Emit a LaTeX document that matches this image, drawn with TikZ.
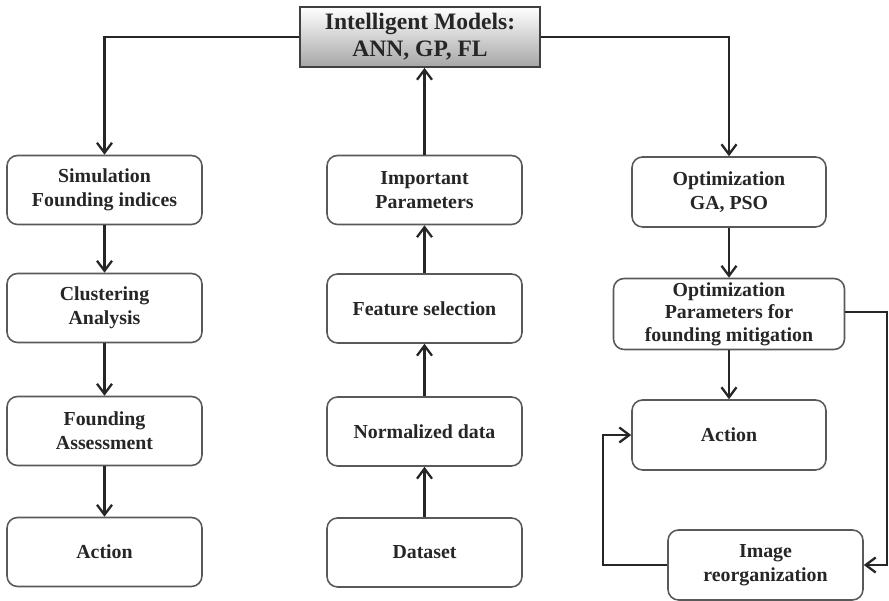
\documentclass[tikz,border=0pt]{standalone}
\usepackage{fontspec}
\setmainfont{Liberation Serif}
\usetikzlibrary{arrows.meta,positioning}

\begin{document}
\begin{tikzpicture}[
  box/.style={draw=black!65, rounded corners=6pt, line width=0.9pt, align=center, minimum width=39mm, minimum height=13.8mm, fill=white, font=\fontsize{11.3}{13.6}\selectfont\bfseries, text=black!85},
  topbox/.style={draw=black!75, line width=1pt, align=center, minimum width=48mm, minimum height=12mm, top color=white, bottom color=black!35, font=\fontsize{13.4}{15.4}\selectfont\bfseries, text=black!85},
  arrow/.style={-{Straight Barb[length=2mm, width=3mm, line width=1.3pt]}, line width=1.4pt, draw=black!85}
]
\useasboundingbox (0,0) rectangle (17.78,12.02);

\node[topbox] (models) at (8.40,11.28) {Intelligent Models:\\ANN, GP, FL};

% left column
\node[box] (sim) at (2.09,8.22) {Simulation\\Founding indices};
\node[box] (clust) at (2.09,5.86) {Clustering\\Analysis};
\node[box] (assess) at (2.09,3.40) {Founding\\Assessment};
\node[box] (act1) at (2.09,0.98) {Action};

% middle column
\node[box] (imp) at (8.49,8.22) {Important\\Parameters};
\node[box] (feat) at (8.49,5.85) {Feature selection};
\node[box] (norm) at (8.49,3.39) {Normalized data};
\node[box] (data) at (8.49,0.97) {Dataset};

% right column
\node[box, minimum width=38.8mm, minimum height=14mm] (opt) at (14.58,8.18) {Optimization\\GA, PSO};
\node[box, minimum width=46.2mm, minimum height=14.2mm, inner sep=1pt, font=\fontsize{11.3}{12.9}\selectfont\bfseries] (params) at (14.58,5.74) {Optimization\\Parameters for\\founding mitigation};
\node[box, minimum width=38.8mm, minimum height=14mm] (act2) at (14.58,3.32) {Action};
\node[box, minimum height=14mm] (reorg) at (15.31,0.72) {Image\\reorganization};

\coordinate (loopR) at (17.74,5.78);
\coordinate (loopL) at (12.06,0.72);

\draw[arrow] (models.west) -| (sim.north);
\draw[arrow] (models.east) -| (opt.north);
\draw[arrow] (imp.north) -- (models.south -| imp.north);

\draw[arrow] (sim) -- (clust);
\draw[arrow] (clust) -- (assess);
\draw[arrow] (assess) -- (act1);

\draw[arrow] (data) -- (norm);
\draw[arrow] (norm) -- (feat);
\draw[arrow] (feat) -- (imp);

\draw[arrow] (opt.south) -- (opt.south |- params.north);
\draw[arrow] (params) -- (act2);
\draw[arrow] (params.east |- loopR) -- (loopR) |- (reorg.east);
\draw[arrow] (reorg.west) -- (loopL) |- (act2.west);
\end{tikzpicture}
\end{document}
